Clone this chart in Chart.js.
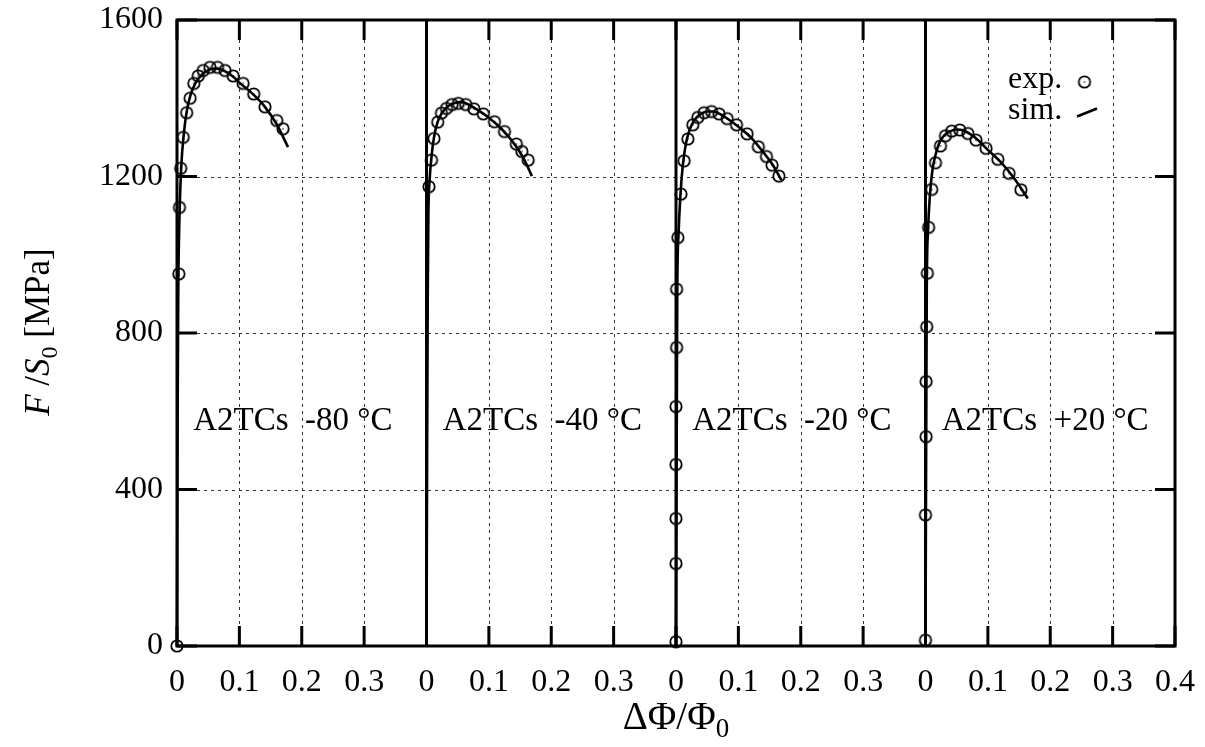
<!DOCTYPE html>
<html><head><meta charset="utf-8">
<script src="https://cdn.jsdelivr.net/npm/chart.js@4.4.1/dist/chart.umd.min.js"></script>
<style>html,body{margin:0;padding:0;background:#fff;}#wrap{width:1205px;height:747px;position:relative;}</style>
</head><body><div id="wrap"><canvas id="c"></canvas></div>
<script>
// ---------- data ----------
const panelOffsets = [0, 0.4, 0.8, 1.2];
const panelLabels = ['A2TCs  -80 °C', 'A2TCs  -40 °C', 'A2TCs  -20 °C', 'A2TCs  +20 °C'];
const xTickLabels = ['0','0.1','0.2','0.3','0','0.1','0.2','0.3','0','0.1','0.2','0.3','0','0.1','0.2','0.3','0.4'];
const yTicks = [0, 400, 800, 1200, 1600];

const expX_m80 = [0, 0.003, 0.004, 0.006, 0.010, 0.0155, 0.021, 0.027, 0.034, 0.042, 0.053, 0.065, 0.077, 0.090, 0.106, 0.123, 0.141, 0.160, 0.170];
const expY_m80 = [0, 951, 1121, 1221, 1300, 1363, 1400, 1438, 1457, 1471, 1479, 1479, 1471, 1457, 1438, 1411, 1378, 1343, 1322];
const expX_m40 = [0.004, 0.008, 0.012, 0.018, 0.024, 0.032, 0.041, 0.051, 0.063, 0.076, 0.091, 0.109, 0.125, 0.144, 0.153, 0.163];
const expY_m40 = [1174, 1242, 1297, 1339, 1362, 1374, 1384, 1387, 1384, 1373, 1360, 1340, 1315, 1283, 1264, 1242];
const expX_m20 = [0, 0, 0, 0, 0, 0.001, 0.001, 0.003, 0.008, 0.013, 0.019, 0.027, 0.035, 0.045, 0.057, 0.069, 0.082, 0.097, 0.114, 0.132, 0.145, 0.154, 0.165];
const expY_m20 = [11, 211, 326, 464, 612, 763, 912, 1044, 1155, 1240, 1296, 1332, 1351, 1363, 1366, 1360, 1348, 1332, 1309, 1276, 1251, 1229, 1201];
const expX_p20 = [0, 0, 0.001, 0.001, 0.002, 0.003, 0.005, 0.010, 0.016, 0.024, 0.032, 0.042, 0.055, 0.068, 0.081, 0.097, 0.116, 0.134, 0.153];
const expY_p20 = [15, 335, 535, 676, 816, 953, 1070, 1167, 1235, 1278, 1304, 1316, 1319, 1310, 1293, 1272, 1244, 1208, 1166];

const simX_m80 = [0, 0.001, 0.002, 0.004, 0.007, 0.011, 0.016, 0.022, 0.030, 0.040, 0.050, 0.060, 0.070, 0.080, 0.090, 0.100, 0.120, 0.140, 0.160, 0.178];
const simY_m80 = [0, 600, 900, 1100, 1230, 1310, 1370, 1410, 1440, 1460, 1472, 1476, 1474, 1466, 1455, 1440, 1413, 1380, 1333, 1275];
const simX_m40 = [0, 0.001, 0.002, 0.003, 0.005, 0.008, 0.012, 0.018, 0.025, 0.035, 0.045, 0.055, 0.065, 0.080, 0.100, 0.120, 0.140, 0.155, 0.169];
const simY_m40 = [0, 500, 900, 1100, 1190, 1250, 1300, 1340, 1363, 1380, 1388, 1390, 1386, 1372, 1350, 1322, 1285, 1248, 1201];
const simX_m20 = [0, 0.002, 0.004, 0.007, 0.011, 0.016, 0.022, 0.030, 0.040, 0.050, 0.060, 0.070, 0.085, 0.100, 0.120, 0.140, 0.155, 0.169];
const simY_m20 = [0, 900, 1050, 1150, 1230, 1285, 1320, 1345, 1360, 1366, 1366, 1360, 1345, 1327, 1300, 1262, 1230, 1191];
const simX_p20 = [0, 0.002, 0.004, 0.007, 0.011, 0.016, 0.022, 0.030, 0.040, 0.050, 0.060, 0.070, 0.085, 0.100, 0.120, 0.140, 0.164];
const simY_p20 = [0, 900, 1060, 1150, 1215, 1255, 1285, 1305, 1316, 1320, 1318, 1310, 1292, 1268, 1238, 1200, 1144];

// ---------- build ----------
const FONT = "'Liberation Serif', 'DejaVu Serif', serif";
const expSets = [[expX_m80, expY_m80], [expX_m40, expY_m40], [expX_m20, expY_m20], [expX_p20, expY_p20]];
const simSets = [[simX_m80, simY_m80], [simX_m40, simY_m40], [simX_m20, simY_m20], [simX_p20, simY_p20]];
function pts(xs, ys, off) { return xs.map((v, i) => ({ x: off + v, y: ys[i] })); }

function makeMarker() {
  const c = document.createElement('canvas');
  c.width = 16; c.height = 16;
  const g = c.getContext('2d');
  g.strokeStyle = '#000'; g.lineWidth = 1.8;
  g.beginPath(); g.arc(8, 8, 5.7, 0, Math.PI * 2); g.stroke();
  g.fillStyle = '#000'; g.beginPath(); g.arc(8, 8, 0.8, 0, Math.PI * 2); g.fill();
  return c;
}
const marker = makeMarker();

const datasets = [];
simSets.forEach((s, i) => datasets.push({
  type: 'line', label: 'sim.', data: pts(s[0], s[1], panelOffsets[i]),
  borderColor: '#000', borderWidth: 2.6, pointRadius: 0, fill: false,
  cubicInterpolationMode: 'monotone', clip: false
}));
expSets.forEach((s, i) => datasets.push({
  type: 'scatter', label: 'exp.', data: pts(s[0], s[1], panelOffsets[i]),
  pointStyle: marker, pointRadius: 6, showLine: false, clip: false
}));

function near(a, b) { return Math.abs(a - b) < 1e-6; }

const framePlugin = {
  id: 'frame',
  beforeDatasetsDraw(chart) {
    const { ctx, chartArea: a, scales: { x, y } } = chart;
    ctx.save();
    const TL = 20;
    ctx.strokeStyle = '#333'; ctx.lineWidth = 1; ctx.setLineDash([3, 4]);
    x.ticks.forEach(t => {
      const v = t.value;
      if (near(v, 0) || near(v, 1.6)) return;
      if (panelOffsets.some(o => near(o, v))) return;
      const px = Math.round(x.getPixelForValue(v)) + 0.5;
      ctx.beginPath(); ctx.moveTo(px, a.top + TL); ctx.lineTo(px, a.bottom - TL); ctx.stroke();
    });
    y.ticks.forEach(t => {
      const v = t.value;
      if (v <= 0 || v >= 1600) return;
      const py = Math.round(y.getPixelForValue(v)) + 0.5;
      ctx.beginPath(); ctx.moveTo(a.left + TL, py); ctx.lineTo(a.right - TL, py); ctx.stroke();
    });
    ctx.setLineDash([]);
    ctx.strokeStyle = '#000'; ctx.lineWidth = 3;
    panelOffsets.slice(1).forEach(o => {
      const px = x.getPixelForValue(o);
      ctx.beginPath(); ctx.moveTo(px, a.top); ctx.lineTo(px, a.bottom); ctx.stroke();
    });
    x.ticks.forEach(t => {
      const px = x.getPixelForValue(t.value);
      ctx.beginPath();
      ctx.moveTo(px, a.bottom); ctx.lineTo(px, a.bottom - TL);
      ctx.moveTo(px, a.top); ctx.lineTo(px, a.top + TL);
      ctx.stroke();
    });
    y.ticks.forEach(t => {
      const py = y.getPixelForValue(t.value);
      ctx.beginPath();
      ctx.moveTo(a.left, py); ctx.lineTo(a.left + TL, py);
      ctx.moveTo(a.right, py); ctx.lineTo(a.right - TL, py);
      ctx.stroke();
    });
    ctx.strokeRect(a.left, a.top, a.right - a.left, a.bottom - a.top);
    ctx.fillStyle = '#000';
    ctx.font = '33px ' + FONT;
    ctx.textBaseline = 'middle'; ctx.textAlign = 'left';
    panelLabels.forEach((s, i) => {
      ctx.fillText(s, x.getPixelForValue(panelOffsets[i] + 0.026), y.getPixelForValue(574));
    });
    ctx.restore();
  },
  afterDraw(chart) {
    const { ctx } = chart;
    ctx.save();
    ctx.fillStyle = '#000'; ctx.strokeStyle = '#000';
    ctx.font = '32px ' + FONT;
    ctx.textBaseline = 'alphabetic'; ctx.textAlign = 'left';
    ctx.fillText('exp.', 1008, 88);
    ctx.fillText('sim.', 1008, 119);
    ctx.drawImage(marker, 1084.5 - 8, 82 - 8);
    ctx.lineWidth = 2.6;
    ctx.beginPath(); ctx.moveTo(1077, 116.5); ctx.lineTo(1097, 108.5); ctx.stroke();

    function rich(parts) {
      let w = 0;
      parts.forEach(p => { ctx.font = p.f; p.w = ctx.measureText(p.t).width; w += p.w; });
      return w;
    }
    function drawRich(parts, x0, y0) {
      let cx = x0;
      parts.forEach(p => { ctx.font = p.f; ctx.fillText(p.t, cx, y0 + (p.dy || 0)); cx += p.w; });
    }
    const xt = [
      { t: 'ΔΦ/Φ', f: '39px ' + FONT },
      { t: '0', f: '27px ' + FONT, dy: 8 }
    ];
    let w = rich(xt);
    drawRich(xt, 676 - w / 2, 729);
    const yt = [
      { t: 'F', f: 'italic 35px ' + FONT },
      { t: ' /', f: '35px ' + FONT },
      { t: 'S', f: 'italic 35px ' + FONT },
      { t: '0', f: '24px ' + FONT, dy: 8 },
      { t: ' [MPa]', f: '35px ' + FONT }
    ];
    w = rich(yt);
    ctx.translate(49, 332);
    ctx.rotate(-Math.PI / 2);
    drawRich(yt, -w / 2, 0);
    ctx.restore();
  }
};

new Chart(document.getElementById('c'), {
  data: { datasets },
  options: {
    responsive: true, maintainAspectRatio: false, animation: false,
    layout: { padding: { top: 20, right: 30, left: 0, bottom: 0 } },
    plugins: { legend: { display: false }, tooltip: { enabled: false } },
    scales: {
      x: {
        type: 'linear', min: 0, max: 1.6,
        grid: { display: false, drawTicks: false }, border: { display: false },
        ticks: {
          stepSize: 0.1, autoSkip: false, maxRotation: 0, padding: 17, color: '#000',
          font: { family: FONT, size: 32 },
          callback: (v, i) => xTickLabels[i]
        },
        afterFit: s => { s.height = 101; s.paddingLeft = 0; s.paddingRight = 0; }
      },
      y: {
        type: 'linear', min: 0, max: 1600,
        grid: { display: false, drawTicks: false }, border: { display: false },
        ticks: {
          stepSize: 400, padding: 14, color: '#000',
          font: { family: FONT, size: 32 },
          callback: (v, i) => String(yTicks[i])
        },
        afterFit: s => { s.width = 177; s.paddingTop = 0; s.paddingBottom = 0; }
      }
    }
  },
  plugins: [framePlugin]
});
</script>
</body></html>
